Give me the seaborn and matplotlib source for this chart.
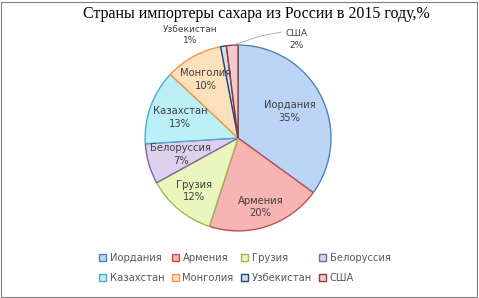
import matplotlib
matplotlib.use("Agg")
import matplotlib.pyplot as plt
import seaborn as sns
import numpy as np
from matplotlib.patches import Patch

countries = ["Иордания", "Армения", "Грузия", "Белоруссия",
             "Казахстан", "Монголия", "Узбекистан", "США"]
shares = [35, 20, 12, 7, 13, 10, 1, 2]
title = "Страны импортеры сахара из России в 2015 году,%"

edge_colors = ["#4f81bd", "#c0504d", "#9bbb59", "#8064a2",
               "#4bacc6", "#f79646", "#1f497d", "#943634"]
fill_colors = ["#bcd4f6", "#f6b4b2", "#eaf6bc", "#ddd2ee",
               "#bcf0f8", "#fde0bc", "#d4dcea", "#f2cccc"]
label_r = [0.62, 0.78, 0.74, 0.64, 0.66, 0.72]

sns.set_theme(style="white")
plt.rcParams["font.family"] = ["DejaVu Sans"]

fig = plt.figure(figsize=(4.79, 2.98), dpi=100)
fig.patch.set_facecolor("white")
frame = plt.Rectangle((0.002, 0.004), 0.994, 0.99, transform=fig.transFigure,
                      fill=False, edgecolor="#7f7f7f", linewidth=0.8)
fig.add_artist(frame)

ax = fig.add_axes([0.303, 0.225, 0.388, 0.624])
wedges, _ = ax.pie(shares, startangle=90, counterclock=False,
                   colors=fill_colors,
                   wedgeprops=dict(linewidth=1.0))
for w, ec in zip(wedges, edge_colors):
    w.set_edgecolor(ec)
ax.set_aspect("equal")
ax.set_xlim(-1, 1)
ax.set_ylim(-1, 1)
ax.axis("off")

txt_color = "#404040"
for i, w in enumerate(wedges):
    ang = np.deg2rad((w.theta1 + w.theta2) / 2)
    if i < len(label_r):
        r = label_r[i]
        ax.text(r * np.cos(ang), r * np.sin(ang),
                f"{countries[i]}\n{shares[i]}%", ha="center", va="center",
                fontsize=7.2, color=txt_color, linespacing=1.35)

ax.text(-0.52, 1.11, f"{countries[6]}\n{shares[6]}%", ha="center", va="center",
        fontsize=6.5, color=txt_color, linespacing=1.35)
ax.text(0.63, 1.06, f"{countries[7]}\n{shares[7]}%", ha="center", va="center",
        fontsize=6.5, color=txt_color, linespacing=1.35)
ang_us = np.deg2rad((wedges[7].theta1 + wedges[7].theta2) / 2)
ax.plot([np.cos(ang_us), 0.25, 0.47], [np.sin(ang_us), 1.1, 1.14],
        color="#a6a6a6", linewidth=0.6, clip_on=False)

fig.text(0.535, 0.952, title, ha="center", va="center", fontsize=11.5,
         family="Liberation Serif", color="black")

handles = [Patch(facecolor=f, edgecolor=e, linewidth=1.0)
           for f, e in zip(fill_colors, edge_colors)]
order = [0, 4, 1, 5, 2, 6, 3, 7]
leg = fig.legend([handles[i] for i in order], [countries[i] for i in order],
                 loc="lower left", ncol=4,
                 bbox_to_anchor=(0.197, 0.035), frameon=False, fontsize=7.2,
                 handlelength=0.7, handleheight=0.7, handletextpad=0.35,
                 columnspacing=0.75, labelspacing=1.0, borderpad=0.0)
for t in leg.get_texts():
    t.set_color("#595959")

fig.savefig("out.png", dpi=100, facecolor="white")
